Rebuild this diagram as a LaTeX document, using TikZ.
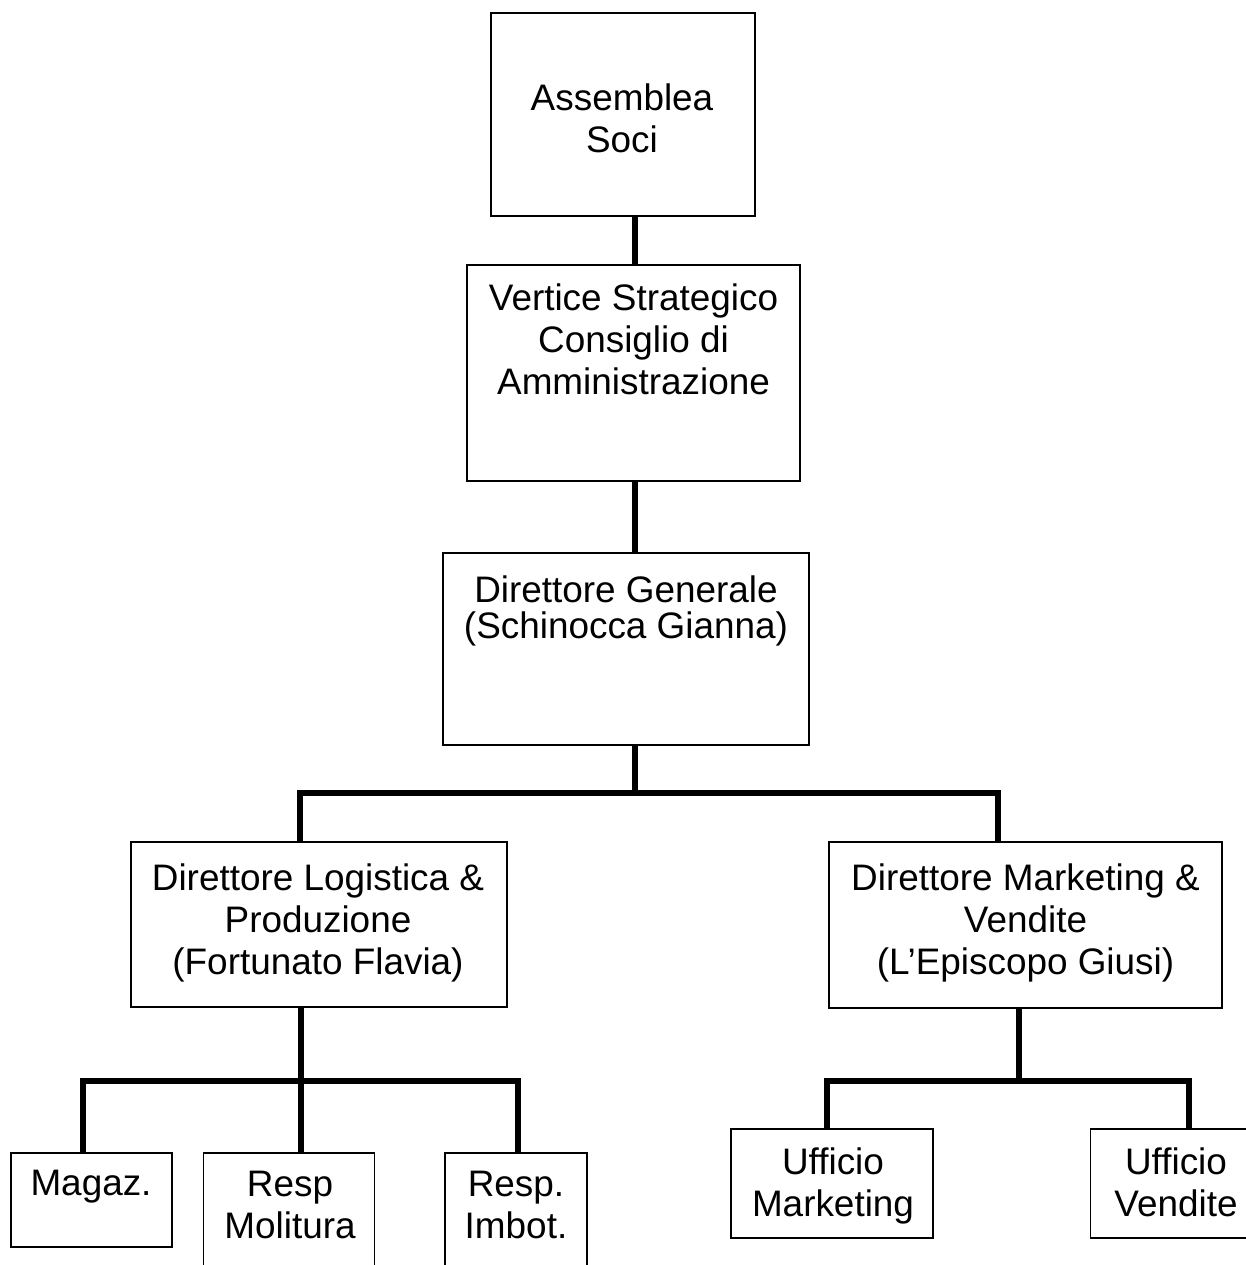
\documentclass[tikz,border=0pt]{standalone}
\usepackage{fontspec}
\setmainfont{Liberation Sans}
\usetikzlibrary{positioning}

\tikzset{
  box/.style={draw, line width=0.9pt, inner sep=0pt},
  txt/.style={align=center, anchor=north, inner sep=0pt,
              font=\fontsize{21}{24}\selectfont},
  conn/.style={line width=3.1pt}
}

\begin{document}
\begin{tikzpicture}[x=0.02cm, y=-0.02cm]

    % area of the page
    \useasboundingbox (0,0) rectangle (1245,1265);

    % 1. boxes
    \node[box, minimum width=5.28cm, minimum height=4.06cm] (soci) at (623,114.5) {};
    \node[box, minimum width=6.66cm, minimum height=4.32cm] (vert) at (633.5,373) {};
    \node[box, minimum width=7.32cm, minimum height=3.84cm] (dg) at (626,649) {};
    \node[box, minimum width=7.52cm, minimum height=3.30cm] (log) at (319,924.5) {};
    \node[box, minimum width=7.86cm, minimum height=3.32cm] (mkt) at (1025.5,925) {};
    \node[box, minimum width=3.22cm, minimum height=1.88cm] (mag) at (91.5,1200) {};
    \node[box, minimum width=3.42cm, minimum height=2.74cm] (mol) at (289,1221.5) {};
    \node[box, minimum width=2.84cm, minimum height=2.74cm] (imb) at (516,1221.5) {};
    \node[box, minimum width=4.04cm, minimum height=2.18cm] (umkt) at (832,1183.5) {};
    \node[box, minimum width=3.50cm, minimum height=2.18cm] (uven) at (1178,1183.5) {};

    % 2. texts
    \node[txt] (soci-t) at (622,83) {Assemblea\\Soci};
    \node[txt] (vert-t) at (633.5,283) {Vertice Strategico\\Consiglio di\\Amministrazione};
    \node[txt, font=\fontsize{21}{21}\selectfont] (dg-t) at (626,575) {Direttore Generale\\(Schinocca Gianna)};
    \node[txt] (log-t) at (318,863) {Direttore Logistica \&\\Produzione\\(Fortunato Flavia)};
    \node[txt] (mkt-t) at (1025.5,863) {Direttore Marketing \&\\Vendite\\(L’Episcopo Giusi)};
    \node[txt] (mag-t) at (91,1170) {Magaz.};
    \node[txt] (mol-t) at (290,1171) {Resp\\Molitura};
    \node[txt] (imb-t) at (516,1171) {Resp.\\Imbot.};
    \node[txt] (umkt-t) at (833,1147) {Ufficio\\Marketing};
    \node[txt] (uven-t) at (1176,1147) {Ufficio\\Vendite};

    % 3. junctions
    \coordinate (spine) at (635,0);
    \coordinate (j1) at (635,793);
    \coordinate (j1l) at (300,793);
    \coordinate (j1r) at (998,793);
    \coordinate (j2) at (301,1081);
    \coordinate (j2l) at (83,1081);
    \coordinate (j2r) at (518,1081);
    \coordinate (j3) at (1019,1081);
    \coordinate (j3l) at (827,1081);
    \coordinate (j3r) at (1189,1081);

    % 4. connectors
    \draw[conn] (soci.south -| spine) -- (vert.north -| spine);
    \draw[conn] (vert.south -| spine) -- (dg.north -| spine);
    \draw[conn] (dg.south -| spine) -- (j1);
    \draw[conn] (log.north -| j1l) -- (j1l) -- (j1r) -- (mkt.north -| j1r);

    \draw[conn] (log.south -| j2) -- (j2);
    \draw[conn] (mag.north -| j2l) -- (j2l) -- (j2r) -- (imb.north -| j2r);
    \draw[conn] (mol.north -| j2) -- (j2);

    \draw[conn] (mkt.south -| j3) -- (j3);
    \draw[conn] (umkt.north -| j3l) -- (j3l) -- (j3r) -- (uven.north -| j3r);

\end{tikzpicture}
\end{document}
